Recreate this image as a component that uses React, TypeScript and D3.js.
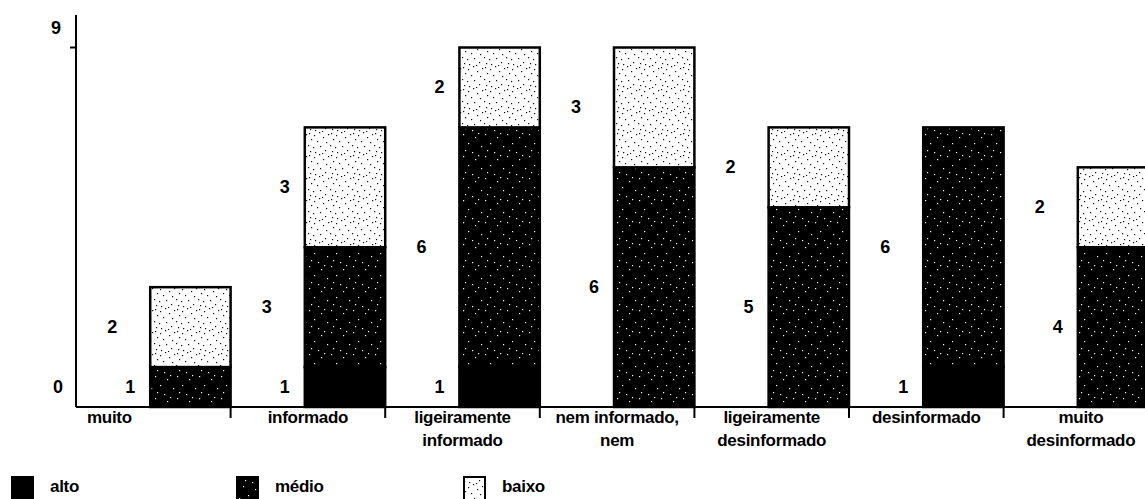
import React from "react";
import * as d3 from "d3";

const categories = [
  "muito informado",
  "informado",
  "ligeiramente informado",
  "nem informado, nem desinformado",
  "ligeiramente desinformado",
  "desinformado",
  "muito desinformado",
];
const categoryLines: string[][] = [
  ["muito"],
  ["informado"],
  ["ligeiramente", "informado"],
  ["nem informado,", "nem"],
  ["ligeiramente", "desinformado"],
  ["desinformado"],
  ["muito", "desinformado"],
];
const seriesNames = ["alto", "médio", "baixo"];
const alto = [0, 1, 1, 0, 0, 1, 0];
const medio = [1, 3, 6, 6, 5, 6, 4];
const baixo = [2, 3, 2, 3, 2, 0, 2];
const yTickValues = [0, 9];

const W = 1145;
const H = 499;
const x0 = 76;
const bandW = 154.6;
const yBase = 407;
const FONT = "'Liberation Sans', Arial, sans-serif";

export default function App() {
  const rows = categories.map((c, i) => ({ cat: c, alto: alto[i], médio: medio[i], baixo: baixo[i] }));
  const stack = d3.stack<any>().keys(seriesNames);
  const layers = stack(rows);

  const x = d3
    .scaleBand<string>()
    .domain(categories)
    .range([x0, x0 + bandW * categories.length])
    .paddingInner(0)
    .paddingOuter(0);
  const y = d3.scaleLinear().domain([0, 9]).range([yBase, 47.5]);

  const barOff = x.bandwidth() * 0.48;
  const barW = x.bandwidth() * 0.52;

  const fills = ["#000", "url(#pMedio)", "url(#pBaixo)"];

  // deterministic speckle positions for textures (style only)
  const medioDots = [
    [1, 2], [13, 5], [6, 11], [19, 14], [3, 18], [10, 20], [16, 1],
  ];
  const baixoDots = [
    [1, 1], [6, 3], [11, 0], [15, 5], [3, 7], [9, 9], [18, 10], [0, 13], [5, 15], [12, 14], [17, 18], [7, 20], [20, 2], [2, 19], [14, 21],
  ];

  const labels: { x: number; y: number; t: string }[] = [];
  categories.forEach((c, i) => {
    let k = 0;
    layers.forEach((layer) => {
      const d = layer[i];
      const v = d[1] - d[0];
      if (v > 0) {
        const left = (x(c) as number) + barOff;
        labels.push({
          x: left - (k % 2 === 0 ? 20 : 38),
          y: (y(d[0]) + y(d[1])) / 2,
          t: String(v),
        });
        k++;
      }
    });
  });

  const legendX = [12, 237, 464];

  return (
    <svg
      width={W}
      height={H}
      style={{ position: "absolute", left: 0, top: 0, background: "#fff" }}
      fontFamily={FONT}
    >
      <defs>
        <pattern id="pMedio" width="22" height="22" patternUnits="userSpaceOnUse">
          <rect width="22" height="22" fill="#000" />
          {medioDots.map(([a, b], j) => (
            <rect key={j} x={a} y={b} width={1.2} height={1.2} fill="#fff" />
          ))}
        </pattern>
        <pattern id="pBaixo" width="22" height="22" patternUnits="userSpaceOnUse">
          <rect width="22" height="22" fill="#fff" />
          {baixoDots.map(([a, b], j) => (
            <rect key={j} x={a} y={b} width={1.2} height={1.2} fill="#111" />
          ))}
        </pattern>
      </defs>

      {/* bars */}
      {layers.map((layer, li) => (
        <g key={layer.key}>
          {layer.map((d, i) => {
            const v = d[1] - d[0];
            if (v <= 0) return null;
            return (
              <rect
                key={i}
                x={(x(categories[i]) as number) + barOff}
                y={y(d[1])}
                width={barW}
                height={y(d[0]) - y(d[1])}
                fill={fills[li]}
                stroke="#000"
                strokeWidth={2.5}
              />
            );
          })}
        </g>
      ))}

      {/* y axis */}
      <line x1={x0} x2={x0} y1={15} y2={yBase} stroke="#000" strokeWidth={2} />
      <line x1={x0 - 6} x2={x0} y1={y(9)} y2={y(9)} stroke="#000" strokeWidth={2} />
      {yTickValues.map((v) => (
        <text
          key={v}
          x={v === 0 ? 58 : 56}
          y={y(v) - 20}
          textAnchor="middle"
          dominantBaseline="central"
          fontSize={18}
          fontWeight="bold"
        >
          {v}
        </text>
      ))}

      {/* x axis */}
      <line x1={x0} x2={W} y1={yBase} y2={yBase} stroke="#000" strokeWidth={2} />
      {categories.slice(1).map((c) => (
        <line
          key={c}
          x1={x(c) as number}
          x2={x(c) as number}
          y1={yBase}
          y2={yBase + 11}
          stroke="#000"
          strokeWidth={2}
        />
      ))}
      {categoryLines.map((lines, i) => {
        const cx = (x(categories[i]) as number) + x.bandwidth() / 2;
        const first = i === 0;
        return (
          <text
            key={i}
            textAnchor={first ? "start" : "middle"}
            fontSize={17}
            fontWeight="bold"
            letterSpacing={-0.3}
          >
            {lines.map((l, j) => (
              <tspan key={j} x={first ? x0 + 11 : cx} y={423 + j * 23}>
                {l}
              </tspan>
            ))}
          </text>
        );
      })}

      {/* data labels */}
      {labels.map((l, i) => (
        <text
          key={i}
          x={l.x}
          y={l.y}
          textAnchor="middle"
          dominantBaseline="central"
          fontSize={18}
          fontWeight="bold"
        >
          {l.t}
        </text>
      ))}

      {/* legend */}
      {seriesNames.map((s, i) => (
        <g key={s}>
          <rect
            x={legendX[i]}
            y={477}
            width={21}
            height={24}
            fill={fills[i]}
            stroke="#000"
            strokeWidth={2}
          />
          <text x={legendX[i] + 38} y={492} fontSize={17} fontWeight="bold" letterSpacing={-0.3}>
            {s}
          </text>
        </g>
      ))}
    </svg>
  );
}
